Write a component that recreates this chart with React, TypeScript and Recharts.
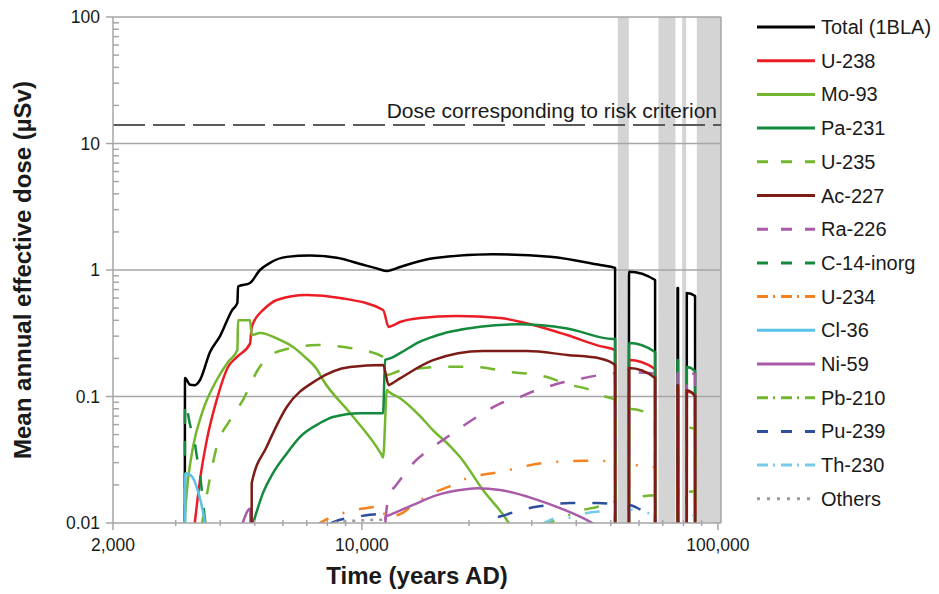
import React from "react";
import { LineChart, Line, XAxis, YAxis, ReferenceArea, ReferenceLine } from "recharts";

const FONT = '"Liberation Sans", Arial, Helvetica, sans-serif';
const GRID = "#a6a6a6";
const OFF = 1e-4; // far below the 0.01 floor, so the curve drops out of view

// rows are [year AD, mean annual effective dose in µSv]
const totalDose = [
  [3180, OFF], [3186, 0.14], [3291, 0.124], [3399, 0.123], [3511, 0.135], [3746, 0.225],
  [3996, 0.3], [4318, 0.48], [4470, 0.55], [4490, 0.74], [4851, 0.79], [5174, 1.0],
  [5521, 1.14], [6152, 1.27], [7150, 1.3], [8500, 1.25], [10076, 1.1], [11000, 1.03],
  [11800, 0.98], [12100, 1.0], [12800, 1.056], [15850, 1.24], [23360, 1.33], [33790, 1.27],
  [46670, 1.095], [51420, 1.04],
  [51500, OFF], [56200, OFF], [56270, 0.97], [66600, 0.834], [66680, OFF],
  [76950, OFF], [77000, 0.72], [77250, 0.72], [77300, OFF],
  [81700, OFF], [81770, 0.658], [86250, 0.623], [86330, OFF],
];
const u238 = [
  [3380, 0.009], [3511, 0.022], [3667, 0.045], [3911, 0.094], [4208, 0.171], [4452, 0.205],
  [4851, 0.262], [4905, 0.354], [5174, 0.457], [5277, 0.483], [5768, 0.579], [6999, 0.634],
  [8684, 0.601], [11470, 0.483], [11900, 0.354], [12100, 0.36], [12800, 0.388], [14570, 0.417],
  [18470, 0.433], [24440, 0.417], [30260, 0.368], [37700, 0.306], [46670, 0.25], [51420, 0.233],
  [51500, OFF], [56200, OFF], [56270, 0.194], [66600, 0.165], [66680, OFF],
  [76950, OFF], [77000, 0.115], [77250, 0.115], [77300, OFF],
  [81700, OFF], [81770, 0.109], [86250, 0.105], [86330, OFF],
];
const mo93 = [
  [3160, 0.009], [3249, 0.022], [3356, 0.04], [3580, 0.078], [3911, 0.135], [4208, 0.1875],
  [4470, 0.233], [4490, 0.4], [4851, 0.4], [4905, 0.306], [5174, 0.318], [5890, 0.28],
  [6407, 0.246], [6922, 0.205], [7468, 0.165], [7779, 0.135], [9264, 0.074], [11300, 0.0355],
  [11470, 0.033], [11760, 0.1125], [11900, 0.109], [12800, 0.097], [14570, 0.07], [15850, 0.054],
  [17690, 0.0406], [18870, 0.0332], [21890, 0.0182], [26080, 0.0096], [27000, 0.008],
];
const pa231 = [
  [4947, 0.0099], [5277, 0.0173], [5628, 0.0248], [6152, 0.0355], [6705, 0.048], [7630, 0.0617],
  [8299, 0.0688], [9880, 0.0738], [11470, 0.0738], [11620, 0.195], [12000, 0.2], [12800, 0.22],
  [14570, 0.272], [15850, 0.297], [17690, 0.325], [27290, 0.372], [37700, 0.345], [50760, 0.285],
  [51420, 0.285], [51500, OFF], [56200, OFF], [56270, 0.265], [66600, 0.225], [66680, OFF],
  [76950, OFF], [77000, 0.194], [77250, 0.194], [77300, OFF],
  [81700, OFF], [81770, 0.171], [86250, 0.159], [86330, OFF],
];
const u235 = [
  [3550, 0.0095], [3746, 0.023], [3911, 0.04], [4263, 0.065], [4637, 0.094], [5120, 0.165],
  [5768, 0.225], [6006, 0.233], [7468, 0.255], [9264, 0.242], [11470, 0.206], [11750, 0.148],
  [12800, 0.16], [14570, 0.167], [17310, 0.172], [21060, 0.171], [25570, 0.157], [31050, 0.148],
  [33790, 0.14], [37700, 0.125], [42910, 0.115], [48190, 0.1], [51420, 0.094],
  [51500, OFF], [56200, OFF], [56270, 0.08], [66600, 0.068], [66680, OFF],
  [76950, OFF], [77000, 0.06], [77250, 0.06], [77300, OFF],
  [81700, OFF], [81770, 0.057], [86250, 0.055], [86330, OFF],
];
const ac227 = [
  [4890, OFF], [4905, 0.0207], [5404, 0.04], [6152, 0.0826], [7468, 0.135], [9264, 0.171],
  [11470, 0.1775], [11900, 0.123], [12100, 0.126], [12800, 0.139], [15850, 0.194], [21890, 0.229],
  [29110, 0.229], [37700, 0.213], [46670, 0.2], [51420, 0.1775],
  [51500, OFF], [56200, OFF], [56270, 0.168], [66600, 0.14], [66680, OFF],
  [76950, OFF], [77000, 0.123], [77250, 0.123], [77300, OFF],
  [81700, OFF], [81770, 0.112], [86250, 0.1], [86330, OFF],
];
const ra226 = [
  [11600, OFF], [11650, 0.0106], [12000, 0.0172], [12390, 0.0194], [13920, 0.0296], [15850, 0.04],
  [18040, 0.0514], [19750, 0.0615], [21940, 0.074], [24440, 0.088], [27290, 0.097], [30330, 0.11],
  [32280, 0.116], [36030, 0.128], [39190, 0.134], [46670, 0.148], [51420, 0.153],
  [51500, OFF], [56200, OFF], [56270, 0.155], [66600, 0.152], [66680, OFF],
  [76950, OFF], [77000, 0.153], [77250, 0.153], [77300, OFF],
  [81700, OFF], [81770, 0.153], [86250, 0.15], [86330, OFF],
];
const c14inorg = [
  [3180, OFF], [3186, 0.089], [3291, 0.06], [3399, 0.042], [3437, 0.034], [3511, 0.024],
  [3627, 0.0105], [3680, 0.008],
];
const u234 = [
  [7400, 0.0095], [8140, 0.011], [9070, 0.0122], [10076, 0.013], [11100, 0.0134], [11470, 0.0134],
  [11620, 0.011], [12000, 0.0112], [12940, 0.0119], [13920, 0.0139], [15850, 0.0173],
  [17310, 0.0191], [19750, 0.0226], [24440, 0.0253], [32280, 0.0298], [41810, 0.031],
  [51420, 0.0309], [51500, OFF], [56200, OFF], [56270, 0.0287], [66600, 0.0275], [66680, OFF],
  [76950, OFF], [77000, 0.0235], [77250, 0.0235], [77300, OFF],
  [81700, OFF], [81770, 0.0224], [86250, 0.0227], [86330, OFF],
];
const cl36 = [
  [3180, OFF], [3190, 0.0247], [3249, 0.0245], [3378, 0.0219], [3475, 0.0173], [3585, 0.012],
  [3640, 0.0092],
];
const ni59 = [
  [4599, 0.0095], [4860, 0.013], [4890, OFF], [11600, OFF], [11650, 0.0112], [12000, 0.0116],
  [13920, 0.0139], [16260, 0.0166], [18870, 0.0182], [21060, 0.0188], [24440, 0.0182],
  [30330, 0.0156], [36030, 0.0131], [44610, 0.0099], [47000, 0.009],
];
const pb210 = [
  [31650, 0.0096], [33790, 0.0101], [41810, 0.0127], [45780, 0.0134], [50760, 0.0147],
  [51420, 0.0148], [51500, OFF], [56200, OFF], [56270, 0.0155], [61640, 0.0163], [66600, 0.0166],
  [66680, OFF], [76950, OFF], [77000, 0.017], [77250, 0.017], [77300, OFF],
  [81700, OFF], [81770, 0.0176], [86250, 0.0178], [86330, OFF],
];
const pu239 = [
  [8140, 0.0099], [8684, 0.0106], [9692, 0.0112], [10540, 0.0116], [11470, 0.0118], [11620, OFF],
  [20000, 0.007], [21480, 0.0096], [25570, 0.0117], [30260, 0.0133], [33790, 0.0139],
  [38440, 0.0144], [45780, 0.0144], [50760, 0.014], [51420, 0.0139],
  [51500, OFF], [56200, OFF], [56270, 0.0139], [61640, 0.0125], [66600, 0.012], [66680, OFF],
  [76950, OFF], [77000, 0.011], [77250, 0.011], [77300, OFF],
  [81700, OFF], [81770, 0.0099], [86250, 0.0095], [86330, OFF],
];
const th230 = [
  [31650, 0.0096], [36030, 0.011], [38440, 0.011], [42910, 0.012], [48820, 0.0124], [51420, 0.0124],
  [51500, OFF], [56200, OFF], [56270, 0.0128], [61640, 0.0121], [66600, 0.0118], [66680, OFF],
  [76950, OFF], [77000, 0.0122], [77250, 0.0122], [77300, OFF],
  [81700, OFF], [81770, 0.012], [86250, 0.0113], [86330, OFF],
];
const others = [
  [7900, 0.0098], [8684, 0.0102], [10076, 0.0105], [11470, 0.0106], [11620, OFF],
];

// periods shaded grey on the time axis
const glacialPeriods = [
  [52330, 56190],
  [68060, 75970],
  [79340, 81410],
  [87230, 102000],
];
const riskCriterion = 14;
const riskLabel = "Dose corresponding to risk criterion";

const xMajor = [2000, 10000, 100000];
const xMinor = [3000, 4000, 5000, 6000, 7000, 8000, 9000, 20000, 30000, 40000, 50000, 60000, 70000, 80000, 90000];
const yMajor = [0.01, 0.1, 1, 10, 100];
const yMinor = [
  0.02, 0.03, 0.04, 0.05, 0.06, 0.07, 0.08, 0.09,
  0.2, 0.3, 0.4, 0.5, 0.6, 0.7, 0.8, 0.9,
  2, 3, 4, 5, 6, 7, 8, 9,
  20, 30, 40, 50, 60, 70, 80, 90,
];

type LineKind = "solid" | "dash" | "dashdot" | "dot";

const nuclides: { name: string; rows: number[][]; color: string; kind: LineKind }[] = [
  { name: "Total (1BLA)", rows: totalDose, color: "#000000", kind: "solid" },
  { name: "U-238", rows: u238, color: "#ec1c24", kind: "solid" },
  { name: "Mo-93", rows: mo93, color: "#72b72d", kind: "solid" },
  { name: "Pa-231", rows: pa231, color: "#138a3d", kind: "solid" },
  { name: "U-235", rows: u235, color: "#72b72d", kind: "dash" },
  { name: "Ac-227", rows: ac227, color: "#7d1b17", kind: "solid" },
  { name: "Ra-226", rows: ra226, color: "#a95aa8", kind: "dash" },
  { name: "C-14-inorg", rows: c14inorg, color: "#138a3d", kind: "dash" },
  { name: "U-234", rows: u234, color: "#f5821f", kind: "dashdot" },
  { name: "Cl-36", rows: cl36, color: "#5bc2e7", kind: "solid" },
  { name: "Ni-59", rows: ni59, color: "#a95aa8", kind: "solid" },
  { name: "Pb-210", rows: pb210, color: "#72b72d", kind: "dashdot" },
  { name: "Pu-239", rows: pu239, color: "#2d4f9e", kind: "dash" },
  { name: "Th-230", rows: th230, color: "#74cde6", kind: "dashdot" },
  { name: "Others", rows: others, color: "#9a9a9a", kind: "dot" },
];

const plotDash: Record<LineKind, string | undefined> = {
  solid: undefined,
  dash: "15 17",
  dashdot: "15 15 2 15",
  dot: "3 6",
};
const legendDash: Record<LineKind, string | undefined> = {
  solid: undefined,
  dash: "11 13",
  dashdot: "11 5 2 6",
  dot: "3 7",
};

// Ac-227 sits on top of everything where the doses fall away
const drawOrder = [...nuclides.filter((n) => n.name !== "Ac-227"), nuclides.find((n) => n.name === "Ac-227")!];

function XTick({ x, y, payload }: any) {
  const major = xMajor.includes(payload.value);
  return (
    <g>
      <line x1={x} x2={x} y1={major ? y : y - 3} y2={major ? y + 7 : y + 3} stroke={GRID} strokeWidth={1.5} />
      {major && (
        <text x={x} y={y + 28} textAnchor="middle" fontSize={17.5} fill="#1a1a1a" fontFamily={FONT}>
          {payload.value.toLocaleString("en-US")}
        </text>
      )}
    </g>
  );
}

function YTick({ x, y, payload }: any) {
  const major = yMajor.includes(payload.value);
  return (
    <g>
      <line x1={major ? x - 7 : x} x2={major ? x : x + 6} y1={y} y2={y} stroke={GRID} strokeWidth={1.5} />
      {major && (
        <text x={x - 13} y={y + 6} textAnchor="end" fontSize={17.5} fill="#1a1a1a" fontFamily={FONT}>
          {String(payload.value)}
        </text>
      )}
    </g>
  );
}

function RiskText({ viewBox }: any) {
  return (
    <text x={viewBox.x + viewBox.width - 4} y={viewBox.y - 7} textAnchor="end" fontSize={21} fill="#1a1a1a" fontFamily={FONT}>
      {riskLabel}
    </text>
  );
}

function XTitle({ viewBox }: any) {
  return (
    <text x={viewBox.x + viewBox.width / 2} y={viewBox.y + 61} textAnchor="middle" fontSize={24} fontWeight="bold" fill="#1a1a1a" fontFamily={FONT}>
      Time (years AD)
    </text>
  );
}

function YTitle({ viewBox }: any) {
  const cx = viewBox.x - 22;
  const cy = viewBox.y + viewBox.height / 2;
  return (
    <text x={cx} y={cy} transform={`rotate(-90 ${cx} ${cy})`} textAnchor="middle" fontSize={24} fontWeight="bold" fill="#1a1a1a" fontFamily={FONT}>
      Mean annual effective dose (µSv)
    </text>
  );
}

function DoseLegend() {
  return (
    <svg width={199} height={520} style={{ position: "absolute", left: 740, top: 0 }}>
      {nuclides.map((n, i) => {
        const y = 27 + i * 33.7;
        return (
          <g key={n.name}>
            <line x1={17} x2={75} y1={y} y2={y} stroke={n.color} strokeWidth={3} strokeDasharray={legendDash[n.kind]} />
            <text x={81} y={y + 7} fontSize={20} fill="#1a1a1a" fontFamily={FONT}>
              {n.name}
            </text>
          </g>
        );
      })}
    </svg>
  );
}

export default function App() {
  return (
    <div style={{ position: "absolute", left: 0, top: 0, width: 939, height: 594, background: "#fff", fontFamily: FONT }}>
      <LineChart width={939} height={594} margin={{ top: 17, right: 218, bottom: 41, left: 53 }}>
        {glacialPeriods.map(([a, b]) => (
          <ReferenceArea key={a} x1={a} x2={b} fill="#d4d4d4" fillOpacity={1} stroke="none" />
        ))}
        {[0.1, 1, 10, 100].map((v) => (
          <ReferenceLine key={v} y={v} stroke={GRID} strokeWidth={1.5} />
        ))}
        <ReferenceLine x={102000} stroke={GRID} strokeWidth={1.5} />
        <XAxis
          type="number"
          dataKey="t"
          scale="log"
          domain={[2000, 102000]}
          allowDataOverflow
          ticks={[...xMajor, ...xMinor].sort((a, b) => a - b)}
          interval={0}
          tick={<XTick />}
          tickLine={false}
          tickSize={0}
          tickMargin={0}
          axisLine={{ stroke: GRID, strokeWidth: 1.5 }}
          height={30}
          label={<XTitle />}
        />
        <YAxis
          type="number"
          scale="log"
          domain={[0.01, 100]}
          allowDataOverflow
          ticks={[...yMajor, ...yMinor].sort((a, b) => a - b)}
          interval={0}
          tick={<YTick />}
          tickLine={false}
          tickSize={0}
          tickMargin={0}
          axisLine={{ stroke: GRID, strokeWidth: 1.5 }}
          width={60}
          label={<YTitle />}
        />
        <ReferenceLine y={riskCriterion} stroke="#5a5a5a" strokeWidth={2} strokeDasharray="32 8" label={<RiskText />} />
        {drawOrder.map((n) => (
          <Line
            key={n.name}
            name={n.name}
            data={n.rows.map(([t, v]) => ({ t, v }))}
            dataKey="v"
            type="monotone"
            stroke={n.color}
            strokeWidth={2.5}
            strokeDasharray={plotDash[n.kind]}
            strokeLinejoin="round"
            dot={false}
            activeDot={false}
            isAnimationActive={false}
          />
        ))}
      </LineChart>
      <DoseLegend />
    </div>
  );
}
